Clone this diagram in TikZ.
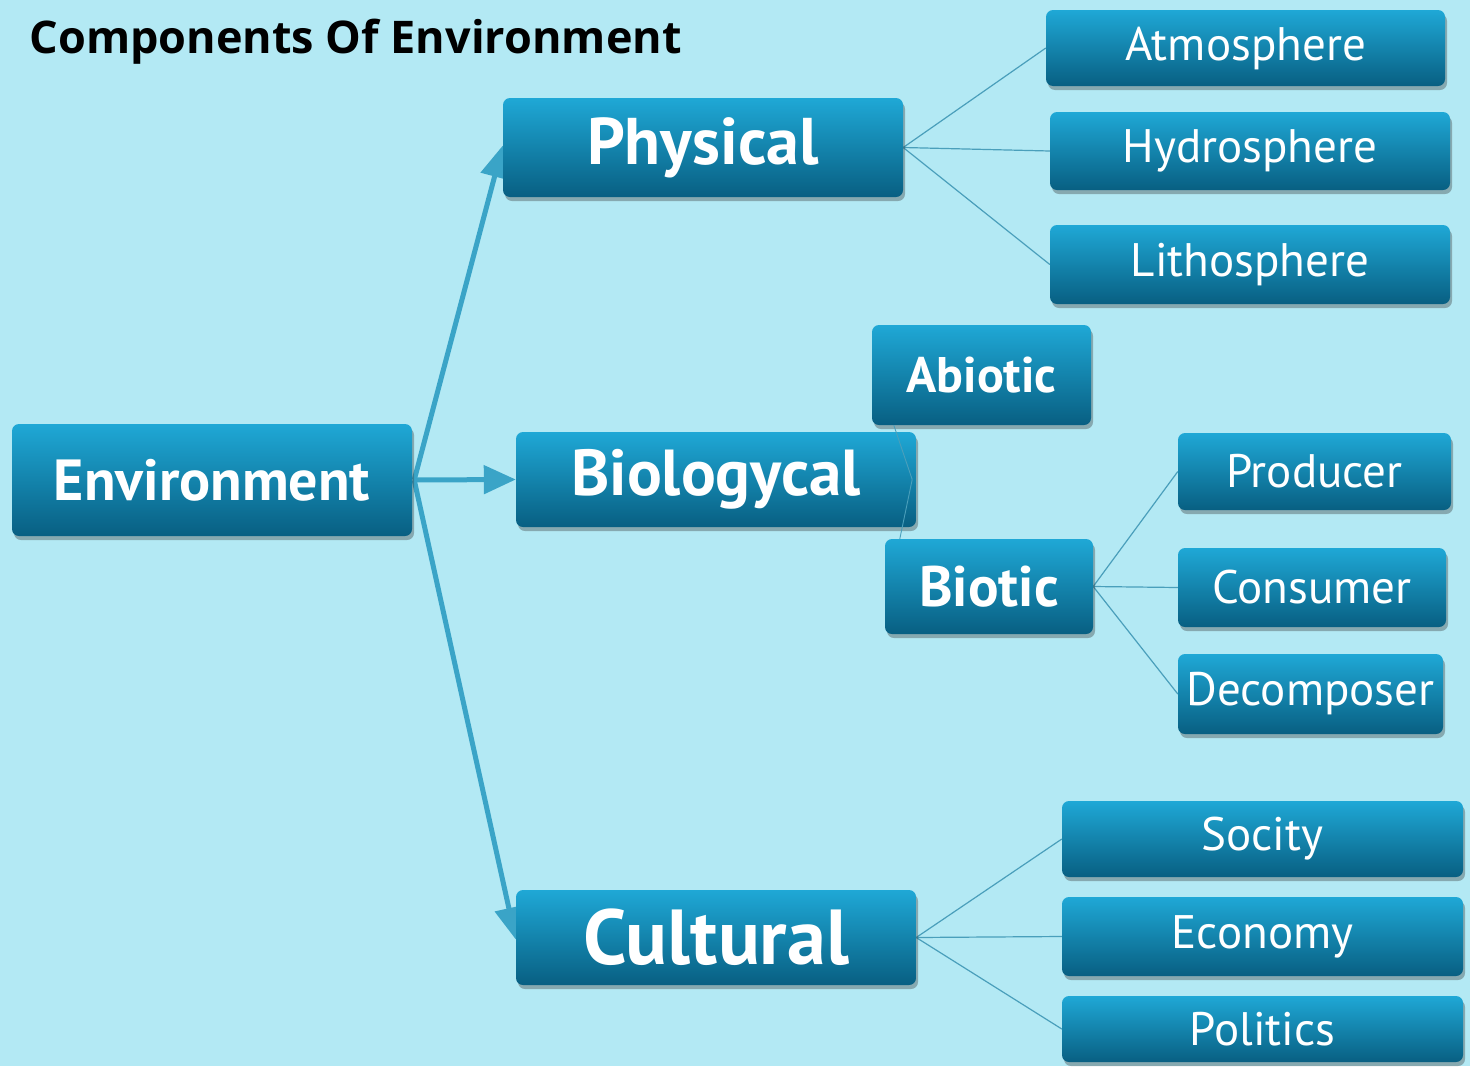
\documentclass[tikz,border=0pt]{standalone}
\usepackage{fontspec}
\setmainfont{PT Sans}
\newfontfamily\titlefont{Open Sans}
\usetikzlibrary{arrows.meta,shadows,backgrounds}
\definecolor{bgc}{HTML}{B3E9F4}
\definecolor{boxtop}{HTML}{1FA8D6}
\definecolor{boxbot}{HTML}{085F82}
\definecolor{arrc}{HTML}{3AA4C7}
\definecolor{thinc}{HTML}{4A9FBB}
\tikzset{
  cbox/.style={rounded corners=7pt, top color=boxtop, bottom color=boxbot,
    text=white, inner sep=0pt, align=center,
    drop shadow={shadow xshift=2pt, shadow yshift=-4pt, opacity=0.35, fill=black!80}},
  bigtxt/.style={font=\bfseries\fontsize{#1}{#1}\selectfont},
  smalltxt/.style={font=\fontsize{#1}{#1}\selectfont},
  bigarrow/.style={draw=arrc, line width=5pt, -{Triangle[length=32pt,width=28pt]}},
  thinline/.style={draw=thinc, line width=1.2pt},
}
\begin{document}
\begin{tikzpicture}[x=1pt,y=-1pt]
\useasboundingbox (0,0) rectangle (1470,1066);

\node[anchor=base west, font=\titlefont\bfseries\fontsize{45}{45}\selectfont] (title) at (26,53) {Components Of Environment};

\node[cbox, bigtxt=58, minimum width=400pt, minimum height=112pt] (env) at (212,480) {Environment};
\node[cbox, bigtxt=66, minimum width=400pt, minimum height=99pt] (phys) at (703,147.5) {Physical};
\node[cbox, bigtxt=65, minimum width=400pt, minimum height=95pt] (bio) at (716,479.5) {Biologycal};
\node[cbox, bigtxt=78, minimum width=400pt, minimum height=95pt] (cult) at (716,937.5) {Cultural};

\node[cbox, smalltxt=47, minimum width=399pt, minimum height=76pt] (atm) at (1245.5,48) {Atmosphere};
\node[cbox, smalltxt=47, minimum width=400pt, minimum height=78pt] (hyd) at (1250,151) {Hydrosphere};
\node[cbox, smalltxt=47, minimum width=400pt, minimum height=79pt] (lith) at (1250,264.5) {Lithosphere};

\node[cbox, bigtxt=50, minimum width=219pt, minimum height=100pt] (abi) at (981.5,375) {Abiotic};
\node[cbox, bigtxt=57, minimum width=208pt, minimum height=95pt] (biot) at (989,586.5) {Biotic};

\node[cbox, smalltxt=47, minimum width=273pt, minimum height=77pt] (prod) at (1314.5,471.5) {Producer};
\node[cbox, smalltxt=47, minimum width=268pt, minimum height=79pt] (cons) at (1312,587.5) {Consumer};
\node[cbox, smalltxt=47, minimum width=265pt, minimum height=80pt] (dec) at (1310.5,694) {Decomposer};

\node[cbox, smalltxt=47, minimum width=401pt, minimum height=76pt] (soc) at (1262.5,839) {Socity};
\node[cbox, smalltxt=47, minimum width=401pt, minimum height=79pt] (eco) at (1262.5,936.5) {Economy};
\node[cbox, smalltxt=47, minimum width=401pt, minimum height=66pt] (pol) at (1262.5,1029) {Politics};

\begin{scope}[on background layer]
  \fill[bgc] (0,0) rectangle (1470,1066);
  \draw[bigarrow] ([xshift=2pt]env.east) -- ([yshift=2pt]phys.west);
  \draw[bigarrow] ([xshift=2pt]env.east) -- (bio.west);
  \draw[bigarrow] ([xshift=2pt]env.east) -- ([yshift=-2pt]cult.west);
  \draw[thinline] (phys.east) -- (atm.west);
  \draw[thinline] (phys.east) -- (hyd.west);
  \draw[thinline] (phys.east) -- (lith.west);
  \draw[thinline] (biot.east) -- (prod.west);
  \draw[thinline] (biot.east) -- (cons.west);
  \draw[thinline] (biot.east) -- (dec.west);
  \draw[thinline] (cult.east) -- (soc.west);
  \draw[thinline] (cult.east) -- (eco.west);
  \draw[thinline] (cult.east) -- (pol.west);
\end{scope}
\draw[thinline, line width=0.9pt] ([xshift=-4pt]bio.east) -- ([xshift=22pt]abi.south west);
\draw[thinline, line width=0.9pt] ([xshift=-4pt]bio.east) -- ([xshift=15pt]biot.north west);
\end{tikzpicture}
\end{document}
